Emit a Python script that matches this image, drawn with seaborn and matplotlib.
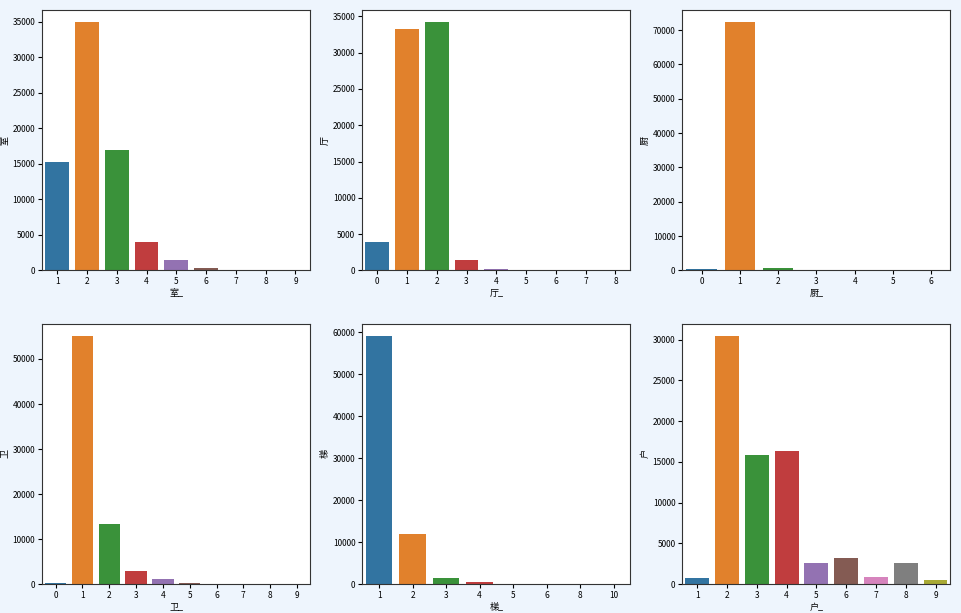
import matplotlib
matplotlib.use("Agg")
import matplotlib.pyplot as plt
import seaborn as sns
import pandas as pd

# data
room_cats = ["1", "2", "3", "4", "5", "6", "7", "8", "9"]
room_vals = [15300, 34950, 16900, 3980, 1400, 330, 25, 8, 4]

hall_cats = ["0", "1", "2", "3", "4", "5", "6", "7", "8"]
hall_vals = [3950, 33300, 34200, 1470, 150, 15, 6, 3, 2]

kitchen_cats = ["0", "1", "2", "3", "4", "5", "6"]
kitchen_vals = [300, 72300, 600, 20, 8, 4, 2]

bath_cats = ["0", "1", "2", "3", "4", "5", "6", "7", "8", "9"]
bath_vals = [200, 55100, 13400, 2900, 1100, 350, 130, 30, 10, 5]

lift_cats = ["1", "2", "3", "4", "5", "6", "8", "10"]
lift_vals = [59100, 12000, 1420, 420, 150, 20, 8, 4]

house_cats = ["1", "2", "3", "4", "5", "6", "7", "8", "9"]
house_vals = [820, 30450, 15900, 16400, 2610, 3180, 900, 2610, 490]

panels = [
    ("室", room_cats, room_vals),
    ("厅", hall_cats, hall_vals),
    ("厨", kitchen_cats, kitchen_vals),
    ("卫", bath_cats, bath_vals),
    ("梯", lift_cats, lift_vals),
    ("户", house_cats, house_vals),
]

plt.rcParams['font.family'] = ['Noto Sans CJK SC', 'DejaVu Sans']
plt.rcParams['axes.unicode_minus'] = False

fig, axes = plt.subplots(2, 3, figsize=(9.61, 6.13), dpi=100)
fig.patch.set_facecolor("#eef5fd")
fig.subplots_adjust(left=0.044, right=0.989, top=0.984, bottom=0.047,
                    wspace=0.194, hspace=0.204)

for ax, (name, cats, vals) in zip(axes.flat, panels):
    df = pd.DataFrame({name + "_": cats, name: vals})
    sns.barplot(data=df, x=name + "_", y=name, hue=name + "_",
                palette="tab10", saturation=0.75, legend=False, ax=ax,
                order=cats, hue_order=cats)
    ax.set_facecolor("white")
    ax.tick_params(labelsize=6, length=3, width=0.8, pad=2)
    ax.set_xlabel(name + "_", fontsize=6.5, labelpad=2)
    ax.set_ylabel(name, fontsize=6.5, labelpad=2)
    for s in ax.spines.values():
        s.set_color("#333333")
        s.set_linewidth(0.8)

fig.savefig("out.png", dpi=100, facecolor=fig.get_facecolor())
